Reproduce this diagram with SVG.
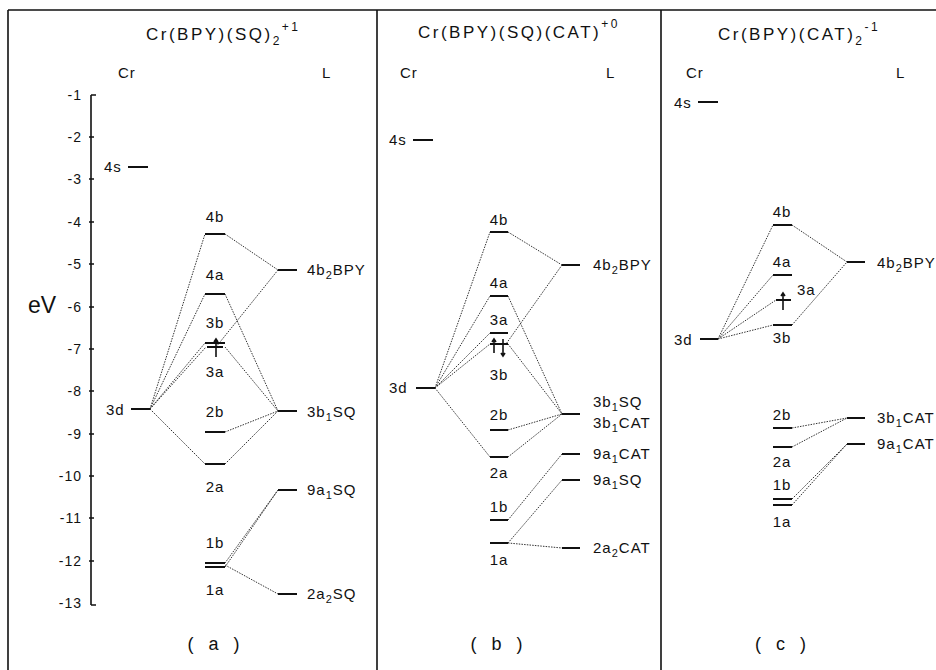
<svg xmlns="http://www.w3.org/2000/svg" width="936" height="670" viewBox="0 0 936 670">
<style>
text{font-family:"Liberation Sans","DejaVu Sans",sans-serif;fill:#111;letter-spacing:1px}
.t{font-size:17px;letter-spacing:2.5px}
.p{font-size:18px;letter-spacing:5px;text-anchor:middle}
.l{font-size:15px}
.k{font-size:14px;text-anchor:end}
.m{text-anchor:middle}
.lv{stroke:#111;stroke-width:2;fill:none}
.fr{stroke:#111;stroke-width:1.6;fill:none}
.c{stroke:#333;stroke-width:1;stroke-dasharray:1.5 1.2;fill:none}
.e{stroke:#111;stroke-width:1.6;fill:none}
</style>
<rect width="936" height="670" fill="#fff"/>
<g id="frame">
<path class="fr" d="M8 10H936M8 10V670M377 10V670M661 10V670"/>
</g>
<g id="axis">
<path class="fr" d="M91 95V605M91 95H96M91 605H96M89 137H94M89 179H94M89 222H94M89 264H94M89 307H94M89 349H94M89 391H94M89 434H94M89 476H94M89 518H94M89 561H94"/>
<text class="k" x="82" y="100">-1</text>
<text class="k" x="82" y="142">-2</text>
<text class="k" x="82" y="184">-3</text>
<text class="k" x="82" y="227">-4</text>
<text class="k" x="82" y="269">-5</text>
<text class="k" x="82" y="312">-6</text>
<text class="k" x="82" y="354">-7</text>
<text class="k" x="82" y="396">-8</text>
<text class="k" x="82" y="439">-9</text>
<text class="k" x="82" y="481">-10</text>
<text class="k" x="82" y="523">-11</text>
<text class="k" x="82" y="566">-12</text>
<text class="k" x="82" y="608">-13</text>
<text x="28" y="313" style="font-size:23px;letter-spacing:0">eV</text>
</g>
<g id="connectors">
<path class="c" d="M150 409L205 234M150 409L205 294M150 409L205 343M150 409L206 347M150 409L205 464M225 234L278 270M278 270L216 347M225 294L278 411M225 347L278 411M225 432L278 411M225 464L278 411M225 563L278 490M225 567L278 490M225 565L278 594"/>
<path class="c" d="M435 388L490 232M435 388L490 296M435 388L490 333M435 388L490 344M435 388L490 457M508 232L562 265M562 265L506 344M508 296L562 414M508 344L562 414M508 430L562 414M508 457L562 414M508 520L562 454M508 543L562 480M508 543L562 548"/>
<path class="c" d="M718 339L773 225M718 339L773 275M718 339L776 300M718 339L773 325M792 225L847 262M792 325L847 262M792 428L847 418M792 447L847 418M792 499L847 444M792 505L847 444"/>
</g>
<g id="panel-a">
<text class="t" x="146" y="40">Cr(BPY)(SQ)<tspan dy="5" font-size="12">2</tspan><tspan dy="-14" font-size="12">+1</tspan></text>
<text class="l" x="118" y="78">Cr</text>
<text class="l" x="322" y="78">L</text>
<text class="l" x="104" y="172">4s</text>
<path class="lv" d="M128 167H148"/>
<text class="l" x="106" y="415">3d</text>
<path class="lv" d="M131 409H150"/>
<g id="a-4b"><path class="lv" d="M205 234H225"/><text class="l m" x="215" y="222">4b</text></g>
<g id="a-4a"><path class="lv" d="M205 294H225"/><text class="l m" x="215" y="280">4a</text></g>
<g id="a-3b"><path class="lv" d="M205 343H225"/><text class="l m" x="215" y="328">3b</text></g>
<g id="a-3a"><path class="lv" d="M207 347H223"/><path class="e" d="M216 357V339M214 342L216 339L218 342"/><text class="l m" x="215" y="377">3a</text></g>
<g id="a-2b"><path class="lv" d="M205 432H225"/><text class="l m" x="215" y="417">2b</text></g>
<g id="a-2a"><path class="lv" d="M205 464H225"/><text class="l m" x="215" y="492">2a</text></g>
<g id="a-1b"><path class="lv" d="M205 563H225"/><text class="l m" x="215" y="548">1b</text></g>
<g id="a-1a"><path class="lv" d="M205 567H225"/><text class="l m" x="215" y="595">1a</text></g>
<g id="a-4b2BPY"><path class="lv" d="M278 270H297"/><text class="l" x="307" y="275">4b<tspan dy="4" font-size="11">2</tspan><tspan dy="-4">BPY</tspan></text></g>
<g id="a-3b1SQ"><path class="lv" d="M278 411H297"/><text class="l" x="307" y="417">3b<tspan dy="4" font-size="11">1</tspan><tspan dy="-4">SQ</tspan></text></g>
<g id="a-9a1SQ"><path class="lv" d="M278 490H297"/><text class="l" x="307" y="495">9a<tspan dy="4" font-size="11">1</tspan><tspan dy="-4">SQ</tspan></text></g>
<g id="a-2a2SQ"><path class="lv" d="M278 594H297"/><text class="l" x="307" y="599">2a<tspan dy="4" font-size="11">2</tspan><tspan dy="-4">SQ</tspan></text></g>
<text class="p" x="216" y="650">( a )</text>
</g>
<g id="panel-b">
<text class="t" x="418" y="38">Cr(BPY)(SQ)(CAT)<tspan dy="-10" font-size="12">+0</tspan></text>
<text class="l" x="400" y="78">Cr</text>
<text class="l" x="606" y="78">L</text>
<text class="l" x="389" y="145">4s</text>
<path class="lv" d="M413 140H433"/>
<text class="l" x="389" y="393">3d</text>
<path class="lv" d="M416 388H435"/>
<g id="b-4b"><path class="lv" d="M490 232H508"/><text class="l m" x="499" y="225">4b</text></g>
<g id="b-4a"><path class="lv" d="M490 296H508"/><text class="l m" x="499" y="288">4a</text></g>
<g id="b-3a"><path class="lv" d="M490 333H508"/><text class="l m" x="499" y="325">3a</text></g>
<g id="b-3b"><path class="lv" d="M490 344H508"/><path class="e" d="M494 353V339M492 342L494 339L496 342M503 339V356M501 353L503 356L505 353"/><text class="l m" x="499" y="380">3b</text></g>
<g id="b-2b"><path class="lv" d="M490 430H508"/><text class="l m" x="499" y="420">2b</text></g>
<g id="b-2a"><path class="lv" d="M490 457H508"/><text class="l m" x="499" y="478">2a</text></g>
<g id="b-1b"><path class="lv" d="M490 520H508"/><text class="l m" x="499" y="512">1b</text></g>
<g id="b-1a"><path class="lv" d="M490 543H508"/><text class="l m" x="499" y="565">1a</text></g>
<g id="b-4b2BPY"><path class="lv" d="M562 265H580"/><text class="l" x="593" y="270">4b<tspan dy="4" font-size="11">2</tspan><tspan dy="-4">BPY</tspan></text></g>
<g id="b-3b1"><path class="lv" d="M562 414H580"/><text class="l" x="593" y="407">3b<tspan dy="4" font-size="11">1</tspan><tspan dy="-4">SQ</tspan></text><text class="l" x="593" y="428">3b<tspan dy="4" font-size="11">1</tspan><tspan dy="-4">CAT</tspan></text></g>
<g id="b-9a1CAT"><path class="lv" d="M562 454H580"/><text class="l" x="593" y="459">9a<tspan dy="4" font-size="11">1</tspan><tspan dy="-4">CAT</tspan></text></g>
<g id="b-9a1SQ"><path class="lv" d="M562 480H580"/><text class="l" x="593" y="485">9a<tspan dy="4" font-size="11">1</tspan><tspan dy="-4">SQ</tspan></text></g>
<g id="b-2a2CAT"><path class="lv" d="M562 548H580"/><text class="l" x="593" y="553">2a<tspan dy="4" font-size="11">2</tspan><tspan dy="-4">CAT</tspan></text></g>
<text class="p" x="499" y="650">( b )</text>
</g>
<g id="panel-c">
<text class="t" x="718" y="40">Cr(BPY)(CAT)<tspan dy="5" font-size="12">2</tspan><tspan dy="-14" font-size="12">-1</tspan></text>
<text class="l" x="686" y="78">Cr</text>
<text class="l" x="896" y="78">L</text>
<text class="l" x="674" y="108">4s</text>
<path class="lv" d="M698 102H718"/>
<text class="l" x="674" y="345">3d</text>
<path class="lv" d="M700 339H718"/>
<g id="c-4b"><path class="lv" d="M773 225H792"/><text class="l m" x="782" y="217">4b</text></g>
<g id="c-4a"><path class="lv" d="M773 275H792"/><text class="l m" x="782" y="267">4a</text></g>
<g id="c-3a"><path class="lv" d="M776 300H791"/><path class="e" d="M783 310V293M781 296L783 293L785 296"/><text class="l" x="797" y="295">3a</text></g>
<g id="c-3b"><path class="lv" d="M773 325H792"/><text class="l m" x="782" y="343">3b</text></g>
<g id="c-2b"><path class="lv" d="M773 428H792"/><text class="l m" x="782" y="420">2b</text></g>
<g id="c-2a"><path class="lv" d="M773 447H792"/><text class="l m" x="782" y="467">2a</text></g>
<g id="c-1b"><path class="lv" d="M773 499H792"/><text class="l m" x="782" y="490">1b</text></g>
<g id="c-1a"><path class="lv" d="M773 505H792"/><text class="l m" x="782" y="527">1a</text></g>
<g id="c-4b2BPY"><path class="lv" d="M847 262H865"/><text class="l" x="877" y="268">4b<tspan dy="4" font-size="11">2</tspan><tspan dy="-4">BPY</tspan></text></g>
<g id="c-3b1CAT"><path class="lv" d="M847 418H865"/><text class="l" x="877" y="423">3b<tspan dy="4" font-size="11">1</tspan><tspan dy="-4">CAT</tspan></text></g>
<g id="c-9a1CAT"><path class="lv" d="M847 444H865"/><text class="l" x="877" y="449">9a<tspan dy="4" font-size="11">1</tspan><tspan dy="-4">CAT</tspan></text></g>
<text class="p" x="783" y="650">( c )</text>
</g>
</svg>
